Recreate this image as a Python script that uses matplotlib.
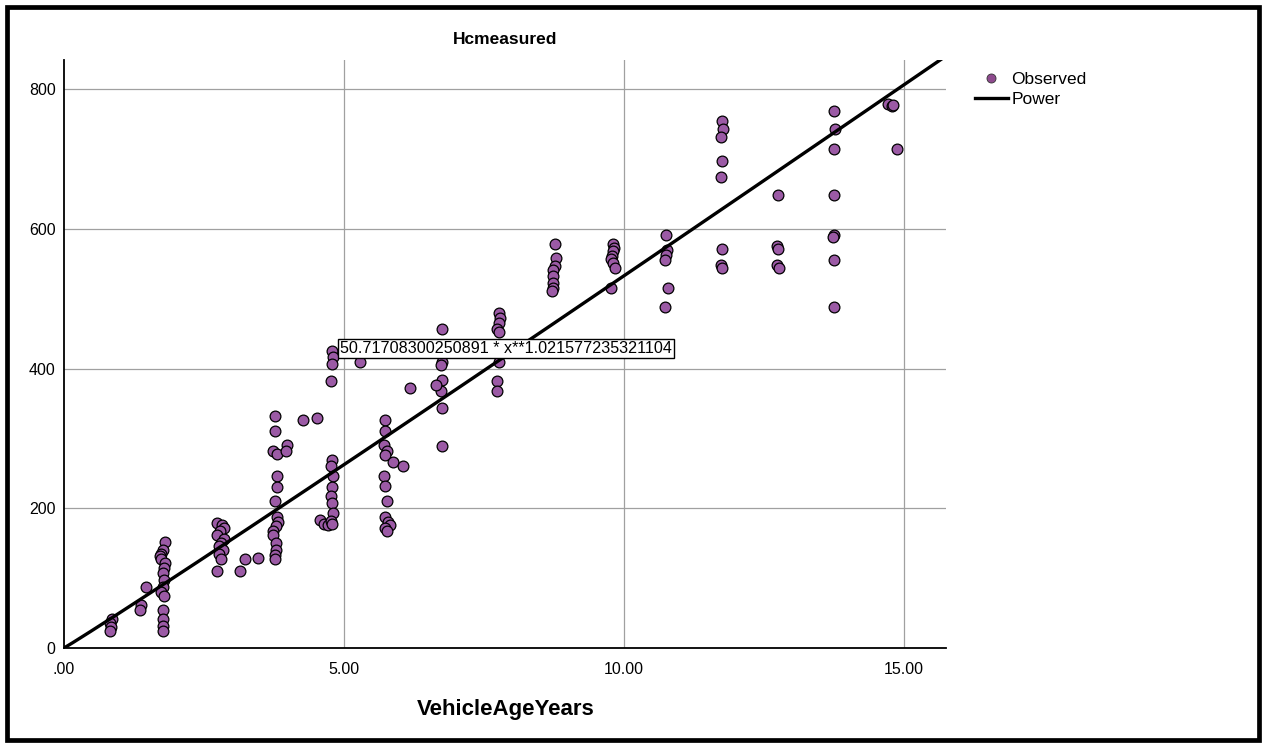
import matplotlib.pyplot as plt
import numpy as np
from matplotlib.lines import Line2D
from matplotlib.patches import Rectangle

plt.rcParams['font.family'] = ['Liberation Sans', 'DejaVu Sans']

# observed HC readings against vehicle age
vehicle_age = [
    0.86, 0.82, 0.84, 0.82,
    1.37, 1.35, 1.46,
    1.80, 1.76, 1.74, 1.72, 1.74, 1.80, 1.78, 1.76, 1.78, 1.76, 1.74, 1.78, 1.76, 1.76, 1.76, 1.76,
    2.74, 2.82, 2.86, 2.78, 2.74, 2.86, 2.80, 2.76, 2.84, 2.76, 2.80, 2.74,
    3.14, 3.23, 3.47,
    3.76, 3.76, 3.74, 3.80, 3.80, 3.80, 3.76, 3.80, 3.82, 3.78, 3.74, 3.74, 3.78, 3.78, 3.76, 3.76,
    3.98, 3.96, 4.27, 4.51,
    4.57, 4.65, 4.72,
    4.78, 4.76, 4.80, 4.78, 4.76, 4.78, 4.80, 4.76, 4.78,
    4.78, 4.80, 4.78, 4.76,
    5.28,
    5.74, 5.74, 5.72, 5.76, 5.74, 5.72, 5.74, 5.76, 5.74, 5.78, 5.82, 5.74, 5.76,
    5.88, 6.06, 6.18,
    6.75, 6.75, 6.73, 6.75, 6.73, 6.75, 6.75, 6.65,
    7.76, 7.78, 7.76, 7.74, 7.76, 7.76, 7.74, 7.74,
    8.76, 8.78, 8.76, 8.74, 8.74, 8.74, 8.74, 8.72,
    9.80, 9.82, 9.80, 9.78, 9.76, 9.80, 9.84, 9.76,
    10.75, 10.77, 10.75, 10.73, 10.79, 10.73,
    11.75, 11.77, 11.73, 11.75, 11.73, 11.75, 11.73, 11.75,
    12.75, 12.73, 12.75, 12.73, 12.77,
    13.75, 13.77, 13.75, 13.75, 13.75, 13.73, 13.75, 13.75,
    14.72, 14.78, 14.80, 14.88,
]
hc_measured = [
    42, 36, 30, 25,
    62, 55, 88,
    152, 140, 135, 132, 128, 122, 115, 107, 97, 88, 80, 74, 55, 42, 32, 25,
    179, 176, 172, 168, 162, 156, 150, 146, 140, 134, 127, 110,
    110, 127, 129,
    332, 311, 282, 278, 246, 231, 210, 188, 180, 175, 168, 162, 150, 140, 133, 128,
    290, 282, 327, 330,
    183, 178, 176,
    269, 260, 246, 231, 217, 207, 193, 182, 178,
    425, 416, 406, 383,
    409,
    327, 311, 291, 282, 276, 246, 232, 210, 188, 180, 176, 172, 168,
    267, 260, 372,
    457, 410, 405, 384, 368, 344, 289, 377,
    480, 473, 465, 457, 452, 410, 383, 368,
    578, 559, 547, 542, 532, 523, 516, 511,
    578, 573, 568, 562, 557, 551, 544, 516,
    592, 570, 563, 556, 516, 488,
    755, 743, 732, 698, 674, 571, 548, 544,
    649, 576, 571, 549, 544,
    769, 743, 715, 649, 592, 589, 555, 488,
    779, 776, 778, 714,
]

# power fit y = a * x**b
coef_a = 50.71708300250891
coef_b = 1.021577235321104
fit_label = "50.71708300250891 * x**1.021577235321104"

x_ticks = [0, 5, 10, 15]
x_tick_labels = ['.00', '5.00', '10.00', '15.00']
y_ticks = [0, 200, 400, 600, 800]
y_tick_labels = ['0', '200', '400', '600', '800']

point_color = '#9b5aa5'
x_max, y_max = 15.75, 842

fig = plt.figure(figsize=(12.66, 7.47), dpi=100)
ax = fig.add_axes([64 / 1266, 1 - 648 / 747, (946 - 64) / 1266, (648 - 60) / 747])

ax.scatter(vehicle_age, hc_measured, s=60, c=point_color, edgecolors='black',
           linewidths=0.9, zorder=3)

xs = np.linspace(0, x_max, 300)
ax.plot(xs, coef_a * xs ** coef_b, color='black', lw=2.4, zorder=4)

ax.text(4.93, 429, fit_label, fontsize=11.6, ha='left', va='center', zorder=5,
        bbox=dict(boxstyle='square,pad=0.1', fc='white', ec='black', lw=1))

ax.set_xlim(0, x_max)
ax.set_ylim(0, y_max)
ax.set_xticks(x_ticks)
ax.set_xticklabels(x_tick_labels)
ax.set_yticks(y_ticks)
ax.set_yticklabels(y_tick_labels)
ax.tick_params(length=0, labelsize=11.5)
ax.tick_params(axis='x', pad=10)
ax.tick_params(axis='y', pad=6)

# reference lines at the labelled ticks (not at zero)
for xv in x_ticks[1:]:
    ax.axvline(xv, color='#a0a0a0', lw=0.9, zorder=1)
for yv in y_ticks[1:]:
    ax.axhline(yv, color='#a0a0a0', lw=0.9, zorder=1)

for side in ['top', 'right']:
    ax.spines[side].set_visible(False)
for side in ['left', 'bottom']:
    ax.spines[side].set_linewidth(1.3)

fig.text(505 / 1266, 1 - 40 / 747, 'Hcmeasured', fontsize=12.5, fontweight='bold',
         ha='center', va='center')
fig.text(506 / 1266, 1 - 710 / 747, 'VehicleAgeYears', fontsize=16, fontweight='bold',
         ha='center', va='center')

handles = [
    Line2D([], [], marker='o', ls='none', markersize=6.5, markerfacecolor='#8e4a8e',
           markeredgecolor='#333333', markeredgewidth=0.6),
    Line2D([], [], color='black', lw=2.4),
]
fig.legend(handles, ['Observed', 'Power'], loc='upper left',
           bbox_to_anchor=(966 / 1266, 1 - 63 / 747), frameon=False, fontsize=12.5,
           handlelength=1.9, handletextpad=0.2, labelspacing=0.3, borderpad=0)

# outer frame round the whole figure
fig.patches.append(Rectangle((7 / 1266, 7 / 747), 1252 / 1266, 733 / 747,
                             transform=fig.transFigure, fill=False, ec='black', lw=3.4))

fig.savefig('out.png', dpi=100)
